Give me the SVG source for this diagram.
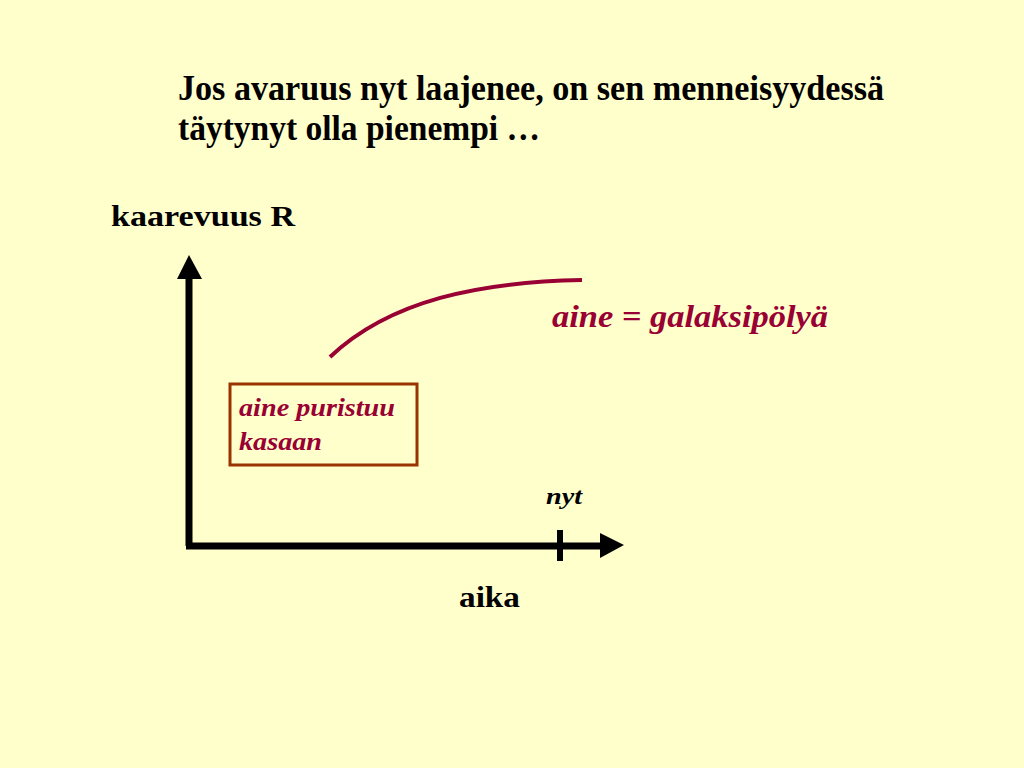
<svg xmlns="http://www.w3.org/2000/svg" width="1024" height="768" viewBox="0 0 1024 768">
<style>
.t{font-family:"Liberation Serif","Times New Roman",serif;font-weight:bold;fill:#000}
.i{font-family:"Liberation Serif","Times New Roman",serif;font-weight:bold;font-style:italic;fill:#990033}
</style>
<rect width="1024" height="768" fill="#FFFFCC"/>
<g id="title">
<text class="t" x="178" y="100" font-size="35" textLength="706" lengthAdjust="spacingAndGlyphs">Jos avaruus nyt laajenee, on sen menneisyydessä</text>
<text class="t" x="178" y="140" font-size="35" textLength="362" lengthAdjust="spacingAndGlyphs">täytynyt olla pienempi …</text>
</g>
<g id="axes">
<path d="M189,546 V276 M186,546 H602" stroke="#000" stroke-width="7" fill="none"/>
<polygon points="177,279 189,255 202,279" fill="#000"/>
<polygon points="600,533 624,545 600,558" fill="#000"/>
<line x1="560" y1="530" x2="560" y2="561" stroke="#000" stroke-width="6"/>
</g>
<g id="curve">
<path d="M330,357 C390,300 480,282 582,280" stroke="#990033" stroke-width="4" fill="none"/>
</g>
<g id="box">
<rect x="230" y="384" width="187" height="81" fill="none" stroke="#993300" stroke-width="3"/>
<text class="i" x="239" y="416" font-size="25" textLength="156" lengthAdjust="spacingAndGlyphs">aine puristuu</text>
<text class="i" x="239" y="450" font-size="25" textLength="83" lengthAdjust="spacingAndGlyphs">kasaan</text>
</g>
<text class="i" x="552" y="327" font-size="31" textLength="276" lengthAdjust="spacingAndGlyphs">aine = galaksipölyä</text>
<text class="t" x="546" y="504" font-size="23" font-style="italic" textLength="36" lengthAdjust="spacingAndGlyphs">nyt</text>
<text class="t" x="111" y="226" font-size="30" textLength="184" lengthAdjust="spacingAndGlyphs">kaarevuus R</text>
<text class="t" x="459" y="607" font-size="30" textLength="61" lengthAdjust="spacingAndGlyphs">aika</text>
</svg>
